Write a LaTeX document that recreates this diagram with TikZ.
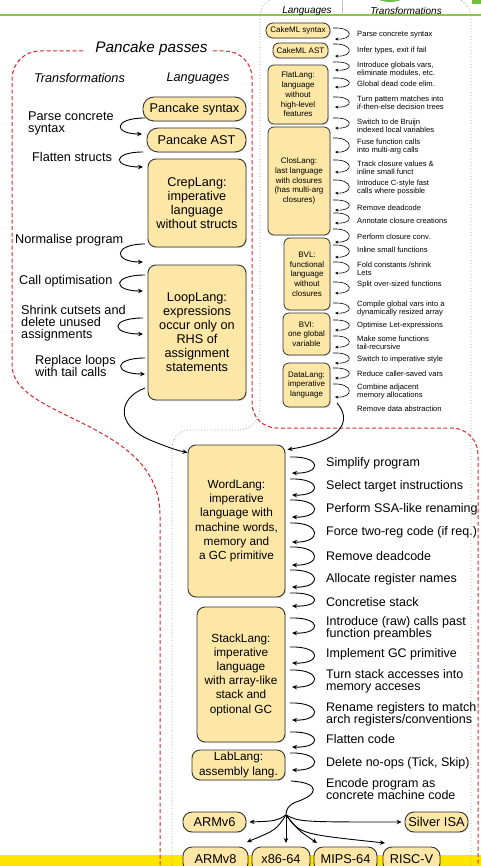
\documentclass[tikz,border=0pt]{standalone}
\usepackage{fontspec}
\setmainfont{Liberation Sans}
\usetikzlibrary{arrows.meta,shadows}
\definecolor{boxfill}{HTML}{FCE7A6}
\definecolor{boxline}{HTML}{333333}
\definecolor{redd}{HTML}{D7262B}
\definecolor{grn}{HTML}{8CC63F}
\definecolor{grnd}{HTML}{6DBE45}
\definecolor{band}{HTML}{FFE600}
\newcommand\fpan{\fontsize{12.7}{14}\selectfont}
\newcommand\fpantr{\fontsize{12.7}{12}\selectfont}
\newcommand\fwbox{\fontsize{11.8}{14.2}\selectfont}
\newcommand\fwtr{\fontsize{12.5}{12}\selectfont}
\newcommand\fcbox{\fontsize{8}{9.7}\selectfont}
\newcommand\fctr{\fontsize{7.6}{8}\selectfont}
\newcommand\farch{\fontsize{12.8}{14}\selectfont}
\newcommand\fhead{\fontsize{12.7}{14}\selectfont\itshape}
\newcommand\fchead{\fontsize{10}{12}\selectfont\itshape}
\newcommand\ftitle{\fontsize{15.3}{18}\selectfont\itshape}
\tikzset{
  lang/.style={draw=boxline, line width=0.9pt, fill=boxfill, rounded corners=8pt,
    align=center, inner sep=0pt,
    drop shadow={opacity=0.25, shadow xshift=1pt, shadow yshift=-1pt}},
  tr/.style={anchor=west, align=left, inner sep=0pt},
  hd/.style={inner sep=0pt},
  arr/.style={-{Stealth[length=5pt,width=4.5pt]}, line width=0.9pt, black},
  sarr/.style={-{Stealth[length=3.4pt,width=3pt]}, line width=0.6pt, black},
  reddash/.style={draw=redd, line width=1pt, dash pattern=on 4pt off 2.5pt},
  graydot/.style={draw=black!40, line width=0.8pt, dotted}
}
% right-bulging loop: [style] x y1 y2 d
\newcommand\rlp[5][arr]{\draw[#1] (#2,#3) .. controls ({#2+#5},{#3-1}) and ({#2+#5},{#4+1}) .. ({#2+2},#4);}
% left-bulging loop: x1 y1 y2 x2 d
\newcommand\llp[5]{\draw[arr] (#1,#2) .. controls ({#1-#5},{#2}) and ({#1-#5},{#3}) .. (#4,#3);}
\begin{document}
\begin{tikzpicture}[x=1pt,y=-1pt]
\useasboundingbox (0,0) rectangle (481,866);
\clip (0,0) rectangle (481,866);
% background remnants
\fill[band] (0,855) rectangle (481,870);
\draw[grn, line width=1.5pt] (0,15) -- (481,15);
\fill[grnd] (390,-14) ellipse [x radius=22pt, y radius=16pt];
\fill[grnd] (472,-5) rectangle (485,4);
\draw[black!25, line width=0.8pt] (342,0) -- (342,13);

% region outlines
\draw[graydot] (280,-3) .. controls (269,-3) and (260,6) .. (260,17) -- (260,405)
  .. controls (260,420) and (252,430) .. (237,430) -- (190,430)
  .. controls (180,430) and (172,438) .. (172,448) -- (172,880);
\draw[graydot] (280,-3) -- (450,-3) .. controls (461,-3) and (471,6) .. (471,17) -- (471,880);
\draw[reddash] (83,51) -- (40,51) .. controls (24.5,51) and (12,63.5) .. (12,79) -- (12,365)
  .. controls (12,420) and (160,420) .. (160,515) -- (160,880);
\draw[reddash] (213,51) -- (225,51) .. controls (240,51) and (252,63) .. (252,78) -- (252,403)
  .. controls (252,417) and (263,428) .. (277,428) -- (452,428)
  .. controls (466,428) and (478,440) .. (478,454) -- (478,880);

% headers
\node[hd, font=\ftitle] (title) at (151.5,49) {Pancake passes};
\node[hd, font=\fhead] (ptrh) at (79.5,78) {Transformations};
\node[hd, font=\fhead] (plah) at (198,78) {Languages};
\node[hd, font=\fchead] (clah) at (307,11) {Languages};
\node[hd, font=\fchead] (ctrh) at (406,11) {Transformations};

% Pancake languages
\node[lang, font=\fpan, minimum width=103pt, minimum height=24pt, rounded corners=11pt] (psyn) at (194.5,109) {Pancake syntax};
\node[lang, font=\fpan, minimum width=99pt, minimum height=24pt, rounded corners=11pt] (past) at (196.5,140) {Pancake AST};
\node[lang, font=\fpan, minimum width=98pt, minimum height=88pt] (crep) at (197,203) {CrepLang:\\imperative\\language\\without structs};
\node[lang, font=\fpan, minimum width=98pt, minimum height=135pt] (loop) at (197,332.5) {LoopLang:\\expressions\\occur only on\\RHS of\\assignment\\statements};

% Pancake transformations
\node[tr, font=\fpantr] (pt1) at (28,123) {Parse concrete\\syntax};
\node[tr, font=\fpantr] (pt2) at (32,157) {Flatten structs};
\node[tr, font=\fpantr] (pt3) at (15,240) {Normalise program};
\node[tr, font=\fpantr] (pt4) at (19,281) {Call optimisation};
\node[tr, font=\fpantr] (pt5) at (21,323) {Shrink cutsets and\\delete unused\\assignments};
\node[tr, font=\fpantr] (pt6) at (35,366) {Replace loops\\with tail calls};
\llp{145}{118}{134}{142}{32}
\llp{143}{152}{167}{143}{31}
\llp{145}{244}{262}{143}{32}
\llp{145}{275}{291}{143}{33}
\llp{143}{318}{334}{143}{33}
\llp{145}{358}{374}{145}{32}

% CakeML languages
\node[lang, font=\fcbox, line width=0.8pt, minimum width=64pt, minimum height=15pt, rounded corners=7pt] (csyn) at (298,30.5) {CakeML syntax};
\node[lang, font=\fcbox, line width=0.8pt, minimum width=55pt, minimum height=15pt, rounded corners=6pt] (cast) at (300.5,50.5) {CakeML AST};
\node[lang, font=\fcbox, line width=0.8pt, minimum width=60pt, minimum height=59pt, rounded corners=6pt] (flat) at (298,94.5) {FlatLang:\\language\\without\\high-level\\features};
\node[lang, font=\fcbox, line width=0.8pt, minimum width=62pt, minimum height=108pt, rounded corners=6pt] (clos) at (299,181) {ClosLang:\\last language\\with closures\\(has multi-arg\\closures)};
\node[lang, font=\fcbox, line width=0.8pt, minimum width=46pt, minimum height=72pt, rounded corners=6pt] (bvl) at (307,274) {BVL:\\functional\\language\\without\\closures};
\node[lang, font=\fcbox, line width=0.8pt, minimum width=47pt, minimum height=42pt, rounded corners=6pt] (bvi) at (306.5,334) {BVI:\\one global\\variable};
\node[lang, font=\fcbox, line width=0.8pt, minimum width=47pt, minimum height=44pt, rounded corners=6pt] (data) at (306.5,385) {DataLang:\\imperative\\language};

% CakeML transformations
\node[tr, font=\fctr] (c1) at (357,35) {Parse concrete syntax};
\node[tr, font=\fctr] (c2) at (357,51) {Infer types, exit if fail};
\node[tr, font=\fctr] (c3) at (357,69) {Introduce globals vars,\\eliminate modules, etc.};
\node[tr, font=\fctr] (c4) at (357,84) {Global dead code elim.};
\node[tr, font=\fctr] (c5) at (357,103) {Turn pattern matches into\\if-then-else decision trees};
\node[tr, font=\fctr] (c6) at (357,125.5) {Switch to de Bruijn\\indexed local variables};
\node[tr, font=\fctr] (c7) at (357,147) {Fuse function calls\\into multi-arg calls};
\node[tr, font=\fctr] (c8) at (357,168) {Track closure values \&\\inline small funct};
\node[tr, font=\fctr] (c9) at (357,188) {Introduce C-style fast\\calls where possible};
\node[tr, font=\fctr] (c10) at (357,208) {Remove deadcode};
\node[tr, font=\fctr] (c11) at (357,221) {Annotate closure creations};
\node[tr, font=\fctr] (c12) at (357,237) {Perform closure conv.};
\node[tr, font=\fctr] (c13) at (357,250) {Inline small functions};
\node[tr, font=\fctr] (c14) at (357,268.5) {Fold constants /shrink\\Lets};
\node[tr, font=\fctr] (c15) at (357,285) {Split over-sized functions};
\node[tr, font=\fctr] (c16) at (357,309) {Compile global vars into a\\dynamically resized array};
\node[tr, font=\fctr] (c17) at (357,326) {Optimise Let-expressions};
\node[tr, font=\fctr] (c18) at (357,342.5) {Make some functions\\tail-recursive};
\node[tr, font=\fctr] (c19) at (357,360) {Switch to imperative style};
\node[tr, font=\fctr] (c20) at (357,374) {Reduce caller-saved vars};
\node[tr, font=\fctr] (c21) at (357,392) {Combine adjacent\\memory allocations};
\node[tr, font=\fctr] (c22) at (357,409) {Remove data abstraction};
\foreach \a/\b in {28/39,44/56,62/70,78/87,97/107,118/128,138/152,160/172,180/193,200/210,213/223,229/242,245/257,262/273,282/293,303/313,320/330,336/347,353/363,368/378,384/397}
  {\rlp[sarr]{333}{\a}{\b}{21}}

% WordLang languages
\node[lang, font=\fwbox, minimum width=97pt, minimum height=152pt] (word) at (236.5,521) {WordLang:\\imperative\\language with\\machine words,\\memory and\\a GC primitive};
\node[lang, font=\fwbox, minimum width=88pt, minimum height=135pt] (stack) at (241,674.5) {StackLang:\\imperative\\language\\with array-like\\stack and\\optional GC};
\node[lang, font=\fwbox, minimum width=93pt, minimum height=30pt] (lab) at (238.5,765) {LabLang:\\assembly lang.};

% into WordLang
\draw[arr] (145,388) .. controls (118,398) and (115,425) .. (150,440) .. controls (165,446) and (175,450) .. ([yshift=-8pt]word.north west);
\draw[arr] (337,403) .. controls (350,418) and (348,440) .. ([shift={(2pt,-5pt)}]word.north east);

% WordLang transformations
\node[tr, font=\fwtr] (w1) at (326,463) {Simplify program};
\node[tr, font=\fwtr] (w2) at (326,486) {Select target instructions};
\node[tr, font=\fwtr] (w3) at (326,509) {Perform SSA-like renaming};
\node[tr, font=\fwtr] (w4) at (326,532) {Force two-reg code (if req.)};
\node[tr, font=\fwtr] (w5) at (326,556) {Remove deadcode};
\node[tr, font=\fwtr] (w6) at (326,579) {Allocate register names};
\node[tr, font=\fwtr] (w7) at (326,602) {Concretise stack};
\node[tr, font=\fwtr] (w8) at (326,628.5) {Introduce (raw) calls past\\function preambles};
\node[tr, font=\fwtr] (w9) at (326,654) {Implement GC primitive};
\node[tr, font=\fwtr] (w10) at (326,681) {Turn stack accesses into\\memory acceses};
\node[tr, font=\fwtr] (w11) at (326,714) {Rename registers to match\\arch registers/conventions};
\node[tr, font=\fwtr] (w12) at (326,739) {Flatten code};
\node[tr, font=\fwtr] (w13) at (326,763) {Delete no-ops (Tick, Skip)};
\node[tr, font=\fwtr] (w14) at (326,789) {Encode program as\\concrete machine code};
\foreach \a/\b in {457/473,479/495,500/517,523/542,547/565,570/587,593/606,618/633,647/663,670/687,703/720,732/747,753/770}
  {\rlp{290}{\a}{\b}{32}}

% targets
\node[lang, font=\farch, minimum width=63pt, minimum height=20pt, rounded corners=9pt] (armv6) at (214.5,822) {ARMv6};
\node[lang, font=\farch, minimum width=63pt, minimum height=20pt, rounded corners=9pt] (silver) at (436.5,822) {Silver ISA};
\node[lang, font=\farch, minimum width=65pt, minimum height=25pt, rounded corners=9pt] (armv8) at (215.5,859.5) {ARMv8};
\node[lang, font=\farch, minimum width=58pt, minimum height=25pt, rounded corners=9pt] (x86) at (281,859.5) {x86-64};
\node[lang, font=\farch, minimum width=63pt, minimum height=25pt, rounded corners=9pt] (mips) at (345.5,859.5) {MIPS-64};
\node[lang, font=\farch, minimum width=57pt, minimum height=25pt, rounded corners=9pt] (riscv) at (411.5,859.5) {RISC-V};

\coordinate (hub) at (286,815);
\draw[line width=0.9pt] (291,781) .. controls (322,783) and (318,795) .. (296,802) .. controls (288,805) and (286,810) .. (hub);
\draw[arr] (hub) .. controls (276,821) .. ([xshift=3pt]armv6.east);
\draw[arr] (hub) .. controls (300,822) .. ([xshift=-3pt]silver.west);
\draw[arr] (hub) .. controls (276,830) .. (247,842);
\draw[arr] (hub) -- (286,843);
\draw[arr] (hub) .. controls (298,830) .. (317,843);
\draw[arr] (hub) .. controls (300,834) .. (385,843);
\end{tikzpicture}
\end{document}
